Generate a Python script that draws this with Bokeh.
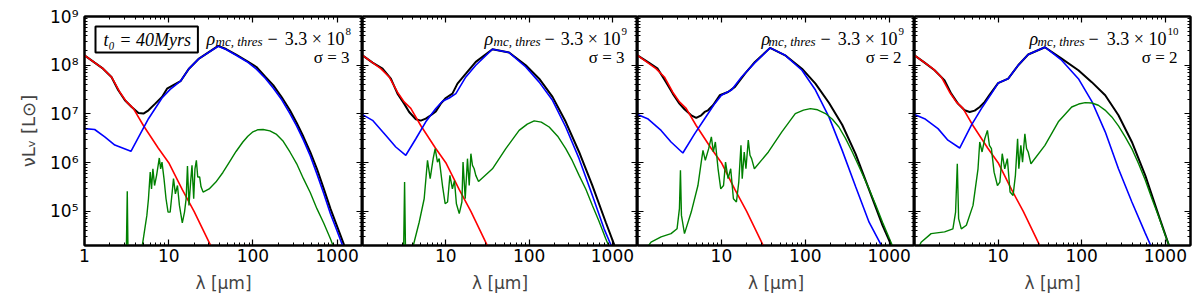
from bokeh.plotting import figure
from bokeh.layouts import row
from bokeh.models import Range1d, LogAxis, FixedTicker, CustomJSTickFormatter, Label
from bokeh.embed import file_html
from bokeh.resources import INLINE

# ---------------- data (wavelength in micron, nu L_nu in L_sun) ----------------
LAM_STAR = [1.0, 1.32, 1.66, 2.09, 2.63, 3.16, 3.8, 5.0, 7.5, 10.0, 14.5, 20.0, 31.0, 40.0]
STAR = [1.6e8, 1.13e8, 8.5e7, 5.75e7, 2.8e7, 1.77e7, 1.3e7, 5.8e6, 2.0e6, 1.0e6, 2.8e5, 1.0e5, 2.1e4, 8e3]

# panel 1
LAM_T1 = [1.0, 1.32, 1.66, 2.09, 2.51, 3.02, 3.63, 4.37, 5.01, 5.75, 6.92, 8.32, 9.55, 13.8, 17.4, 22.9, 38.7, 48, 63.1, 85, 110, 140, 174, 220, 275, 330, 398, 480, 575, 690, 832, 1202, 1600]
TOT1 = [1.6e8, 1.13e8, 8.5e7, 5.75e7, 3.1e7, 1.91e7, 1.39e7, 1.05e7, 1.02e7, 1.19e7, 1.63e7, 2.24e7, 3.3e7, 4.7e7, 8.5e7, 1.37e8, 2.5e8, 2.15e8, 1.66e8, 1.22e8, 9.2e7, 5.8e7, 3.9e7, 2.2e7, 1.19e7, 6.6e6, 3.4e6, 1.65e6, 7.5e5, 3.0e5, 1.14e5, 2.1e4, 4e3]
LAM_B1 = [1.0, 1.32, 1.74, 2.29, 3.56, 5.75, 8.32, 10.4, 13.8, 17.4, 22.9, 38.7, 48, 63.1, 85, 110, 140, 174, 220, 275, 330, 398, 480, 575, 690, 832, 980, 1148, 1500]
B1 = [5.0e6, 4.8e6, 3.4e6, 2.3e6, 1.71e6, 8.0e6, 2.13e7, 3.2e7, 4.7e7, 8.5e7, 1.37e8, 2.45e8, 2.1e8, 1.6e8, 1.18e8, 8.3e7, 5.4e7, 3.4e7, 1.95e7, 1.02e7, 5.7e6, 2.9e6, 1.38e6, 5.9e5, 2.4e5, 9.0e4, 4.3e4, 2.1e4, 5e3]
LAM_G1 = [3.12, 3.22, 3.3, 4.3, 4.88, 5.50, 5.75, 6.03, 6.25, 6.49, 6.79, 7.18, 7.73, 8.02, 8.32, 8.79, 9.29, 9.82, 10.4, 11.0,
          11.4, 12.0, 12.7, 13.4, 14.5, 15.4, 16.1, 16.7, 17.4, 18.2, 18.9, 19.8, 20.5, 21.3, 22.1, 23.3, 24.2, 25.6, 30.2, 36.3,
          44, 52.5, 63, 75.9, 87, 100, 115, 132, 159, 191, 229, 275, 331, 398, 479, 575, 692, 832, 1000]
G1 = [8e3, 2.6e5, 8e3, 5e3, 2.1e4, 8.3e4, 1.82e5, 6.4e5, 2.9e5, 7.5e5, 3.4e5, 5.5e5, 1.25e6, 7.5e5, 1.03e6, 4.7e5, 1.82e5, 9.7e4, 9.7e4, 2.5e5,
      4.7e5, 2.3e5, 3.4e5, 1.33e5, 5.8e4, 9.7e4, 1.82e5, 8.5e5, 1.33e5, 4.0e5, 8.8e5, 1.82e5, 7.5e5, 1.12e6, 5.1e5, 5.1e5, 3.2e5, 2.5e5, 2.9e5, 4.0e5,
      6.3e5, 1.03e6, 1.7e6, 2.66e6, 3.5e6, 4.3e6, 4.75e6, 4.8e6, 4.5e6, 3.8e6, 2.75e6, 1.66e6, 9.5e5, 4.7e5, 2.45e5, 1.14e5, 5.8e4, 2.74e4, 1.2e4]

# panel 2
LAM_T2 = [1.0, 1.32, 1.74, 2.19, 2.63, 3.16, 3.63, 4.37, 5.01, 5.75, 6.61, 7.59, 8.71, 10.0, 12.0, 13.8, 17.4, 22.9, 36.3, 57.5, 91.2, 132, 191, 275, 398, 575, 832, 1047, 1400]
TOT2 = [1.6e8, 1.13e8, 8.5e7, 5.3e7, 2.62e7, 1.63e7, 1.1e7, 7.8e6, 7.3e6, 8.0e6, 9.4e6, 1.13e7, 1.63e7, 2.13e7, 2.62e7, 4.2e7, 6.7e7, 1.17e8, 2.13e8, 1.82e8, 1.0e8, 5.3e7, 2.24e7, 6.9e6, 1.66e6, 3.4e5, 6.0e4, 2.1e4, 4e3]
LAM_B2 = [1.0, 1.32, 1.91, 2.51, 3.31, 4.37, 5.75, 7.59, 9.12, 11.0, 13.2, 17.4, 22.9, 36.3, 57.5, 91.2, 132, 191, 275, 398, 575, 794, 955, 1300]
B2 = [9.7e6, 7.4e6, 3.6e6, 2.1e6, 1.42e6, 3.1e6, 6.9e6, 1.29e7, 1.82e7, 2.13e7, 2.62e7, 5.75e7, 1.0e8, 2.13e8, 1.82e8, 9.2e7, 4.5e7, 1.91e7, 5.4e6, 1.21e6, 2.13e5, 4.4e4, 2.1e4, 5e3]
LAM_G2 = [3.1, 3.2, 3.3, 3.6, 4.1, 4.79, 5.50, 6.03, 6.49, 7.05, 7.45, 7.94, 8.32, 9.12, 9.82, 10.5, 11.2, 12.0, 12.7, 13.4,
          14.5, 15.6, 16.1, 17.1, 18.2, 19.1, 20.0, 20.9, 21.9, 22.9, 24.7, 36.3, 52.5, 75.9, 95, 115, 140, 174, 220, 275,
          330, 398, 480, 575, 690, 832, 1000]
G2 = [8e3, 4.0e5, 8e3, 5e3, 2.1e4, 6.0e4, 1.82e5, 1.12e6, 4.7e5, 1.21e6, 1.94e6, 1.03e6, 1.21e6, 3.4e5, 1.44e5, 1.56e5, 5.5e5, 2.9e5, 4.3e5, 1.44e5,
      9.0e4, 1.56e5, 1.03e6, 1.82e5, 1.21e6, 3.4e5, 1.53e6, 8.8e5, 7.5e5, 5.5e5, 4.1e5, 7.5e5, 1.94e6, 4.6e6, 6.2e6, 7.2e6, 6.8e6, 5.4e6, 3.5e6, 1.94e6,
      1.1e6, 5.5e5, 2.85e5, 1.33e5, 6.3e4, 2.74e4, 1.3e4]

# panel 3
LAM_T3 = [1.0, 1.32, 1.74, 2.19, 2.63, 3.16, 3.63, 4.37, 5.01, 5.75, 6.31, 6.92, 7.94, 9.55, 12.0, 14.5, 19.1, 25.1, 38.0, 57.5, 91.2, 132, 191, 275, 398, 575, 832, 1047, 1400]
TOT3 = [1.6e8, 1.17e8, 8.5e7, 4.5e7, 2.62e7, 1.63e7, 1.25e7, 9.4e6, 8.3e6, 9.4e6, 1.1e7, 1.19e7, 1.51e7, 2.42e7, 2.83e7, 3.6e7, 6.7e7, 1.17e8, 2.27e8, 1.6e8, 8.5e7, 4.2e7, 1.7e7, 6.0e6, 1.5e6, 2.8e5, 5.2e4, 2.1e4, 5e3]
LAM_B3 = [1.0, 1.32, 1.91, 2.51, 3.47, 4.79, 6.31, 8.32, 10.0, 13.2, 17.4, 25.1, 38.0, 57.5, 91.2, 132, 191, 275, 398, 575, 794, 1100]
B3 = [9.7e6, 8.0e6, 4.6e6, 2.66e6, 1.58e6, 3.9e6, 8.0e6, 1.63e7, 2.42e7, 3.1e7, 5.75e7, 1.13e8, 2.27e8, 1.6e8, 7.9e7, 3.1e7, 8.7e6, 1.79e6, 3.2e5, 6.0e4, 2.1e4, 4e3]
LAM_G3 = [1.0, 1.45, 1.91, 2.51, 2.96, 3.16, 3.25, 3.34, 3.63, 4.37, 5.25, 5.75, 6.03, 6.43, 7.05, 7.59, 8.02, 8.47, 9.12, 9.82,
          10.6, 11.2, 12.0, 12.9, 13.9, 15.1, 16.1, 17.1, 17.7, 18.7, 19.6, 20.9, 21.9, 22.9, 24.7, 36.3, 52.5, 75.9, 95, 115,
          140, 174, 210, 251, 300, 363, 450, 575, 690, 832, 1076, 1400]
G3 = [1.0e4, 2.34e4, 3.0e4, 3.5e4, 4.4e4, 1.14e5, 7.0e5, 8.3e4, 3.5e4, 9.7e4, 3.4e5, 1.03e6, 1.79e6, 1.12e6, 1.94e6, 3.4e6, 1.66e6, 2.66e6, 7.5e5, 2.9e5,
      3.4e5, 1.03e6, 4.7e5, 7.5e5, 1.82e5, 1.56e5, 4.0e5, 2.27e6, 4.7e5, 1.66e6, 7.5e5, 2.9e6, 1.42e6, 1.21e6, 7.5e5, 1.66e6, 4.3e6, 1.02e7, 1.2e7, 1.29e7,
      1.22e7, 1.02e7, 7.8e6, 5.4e6, 3.2e6, 1.66e6, 7.4e5, 2.9e5, 1.36e5, 6.0e4, 2.1e4, 5e3]

# panel 4
LAM_T4 = [1.0, 1.32, 1.74, 2.29, 2.75, 3.31, 3.98, 4.57, 5.25, 6.03, 6.92, 7.94, 10.0, 13.2, 17.4, 22.9, 36.3, 57.5, 91.2, 132, 191, 275, 398, 575, 832, 1096, 1400]
TOT4 = [1.6e8, 1.13e8, 7.9e7, 4.9e7, 2.62e7, 1.63e7, 1.19e7, 1.1e7, 1.17e7, 1.39e7, 1.77e7, 2.5e7, 4.3e7, 5.3e7, 1.0e8, 1.66e8, 2.34e8, 1.37e8, 7.9e7, 4.5e7, 2.42e7, 9.4e6, 2.66e6, 5.5e5, 8.3e4, 2.1e4, 5e3]
LAM_B4 = [1.0, 1.32, 1.91, 2.51, 3.47, 4.79, 6.31, 8.32, 10.0, 13.2, 17.4, 22.9, 36.3, 57.5, 91.2, 132, 191, 275, 398, 575, 661, 900]
B4 = [9.7e6, 8.0e6, 5.0e6, 2.9e6, 2.0e6, 5.9e6, 1.29e7, 2.62e7, 4.3e7, 5.3e7, 1.0e8, 1.66e8, 2.34e8, 1.27e8, 5.3e7, 1.82e7, 4.3e6, 7.5e5, 1.56e5, 3.6e4, 2.1e4, 4e3]
LAM_G4 = [1.0, 1.20, 1.58, 2.29, 2.88, 3.10, 3.25, 3.37, 3.63, 4.17, 5.01, 5.75, 6.03, 6.43, 6.92, 7.45, 7.87, 8.32, 8.95, 9.82,
          10.5, 11.2, 12.0, 12.9, 13.9, 15.1, 16.1, 17.1, 17.7, 18.7, 19.6, 20.9, 21.9, 22.9, 24.7, 36.3, 52.5, 75.9, 92, 110,
          132, 158, 190, 229, 275, 331, 400, 479, 575, 692, 830, 1000, 1100, 1400]
G4 = [1.2e4, 2.34e4, 3.5e4, 3.8e4, 4.4e4, 9.7e4, 9.5e5, 7.1e4, 4.4e4, 5.2e4, 1.33e5, 7.5e5, 2.66e6, 1.66e6, 3.1e6, 4.6e6, 2.27e6, 1.94e6, 6.4e5, 3.4e5,
      4.0e5, 1.53e6, 7.5e5, 1.21e6, 2.5e5, 2.13e5, 5.5e5, 3.1e6, 7.5e5, 2.27e6, 1.03e6, 3.9e6, 1.94e6, 1.66e6, 9.5e5, 2.27e6, 6.9e6, 1.39e7, 1.6e7, 1.71e7,
      1.68e7, 1.51e7, 1.2e7, 8.7e6, 5.7e6, 3.4e6, 1.9e6, 9.5e5, 4.4e5, 1.82e5, 8.0e4, 3.2e4, 2.1e4, 5e3]

PANELS = [
    (LAM_T1, TOT1, LAM_B1, B1, LAM_G1, G1),
    (LAM_T2, TOT2, LAM_B2, B2, LAM_G2, G2),
    (LAM_T3, TOT3, LAM_B3, B3, LAM_G3, G3),
    (LAM_T4, TOT4, LAM_B4, B4, LAM_G4, G4),
]
RHO_EXPONENTS = ["8", "9", "9", "10"]
SIGMA_VALUES = ["3", "3", "2", "2"]
AGE_TEXT = "t₀ = 40Myrs"

X_TICKS = [1, 10, 100, 1000]
Y_TICKS = [1e5, 1e6, 1e7, 1e8, 1e9]

# ---------------- layout / style ----------------
FRAME_H = 229
FRAME_W = [278, 275, 277, 276]
# (rho left, subscript left, minus left, exponent left) measured from the frame's right edge
TEXT_OFFS = [(156, 147, 95, 17), (153, 144, 93, 16), (153, 146, 94, 16), (161, 153, 102, 23)]
X_MINOR = [m * 10 ** k for k in range(0, 4) for m in range(2, 10)]
Y_MINOR = [m * 10 ** k for k in range(4, 9) for m in range(2, 10)]

SUP_JS = """
const sup = {"0":"\u2070","1":"\u00b9","2":"\u00b2","3":"\u00b3","4":"\u2074","5":"\u2075","6":"\u2076","7":"\u2077","8":"\u2078","9":"\u2079","-":"\u207b"};
const e = Math.round(Math.log10(tick));
return "10" + String(e).split("").map(c => sup[c]).join("");
"""
BLANK = CustomJSTickFormatter(code="return '';")
TICK_FONT = "DejaVu Sans"
SERIF = "Liberation Serif"


def style_axis(ax, ticks, minor, formatter):
    ax.ticker = FixedTicker(ticks=ticks, minor_ticks=minor)
    ax.formatter = formatter
    ax.axis_line_width = 2
    ax.axis_line_color = "black"
    ax.major_tick_in = 6
    ax.major_tick_out = 0
    ax.minor_tick_in = 3
    ax.minor_tick_out = 0
    ax.major_tick_line_width = 1.2
    ax.minor_tick_line_width = 1
    ax.major_tick_line_color = "black"
    ax.minor_tick_line_color = "black"
    ax.major_label_standoff = 3
    ax.major_label_text_font = TICK_FONT
    ax.major_label_text_font_size = "17px"
    ax.major_label_text_color = "black"


def add_text(p, x, y, text, size, style="normal", align="left"):
    p.add_layout(Label(x=x, y=y, x_units="screen", y_units="screen", text=text,
                       text_align=align, text_baseline="alphabetic", text_font=SERIF,
                       text_font_size=size, text_font_style=style, text_color="black"))


figs = []
for i, (lt, tot, lb, blue, lg, green) in enumerate(PANELS):
    fw = FRAME_W[i]
    p = figure(frame_width=fw, frame_height=FRAME_H,
               x_axis_type="log", y_axis_type="log",
               x_range=Range1d(1, 2000), y_range=Range1d(2e4, 1e9),
               output_backend="svg", toolbar_location=None,
               min_border_left=84 if i == 0 else 0,
               min_border_right=2 if i == 3 else 0,
               min_border_top=16, min_border_bottom=0,
               background_fill_color="white", border_fill_color="white")
    p.grid.visible = False
    p.outline_line_color = "black"
    p.outline_line_width = 2

    xfmt = CustomJSTickFormatter(code="return String(Math.round(tick));" if i == 0 else
                                 "return tick < 5 ? '' : String(Math.round(tick));")
    style_axis(p.xaxis[0], X_TICKS, X_MINOR, xfmt)
    p.xaxis[0].axis_label = "λ [μm]"
    p.xaxis[0].axis_label_text_font = TICK_FONT
    p.xaxis[0].axis_label_text_font_size = "17px"
    p.xaxis[0].axis_label_text_font_style = "normal"
    p.xaxis[0].axis_label_standoff = 8

    style_axis(p.yaxis[0], Y_TICKS, Y_MINOR,
               CustomJSTickFormatter(code=SUP_JS) if i == 0 else BLANK)
    if i == 0:
        p.yaxis[0].axis_label = "νLᵥ [L⊙]"
        p.yaxis[0].axis_label_text_font = TICK_FONT
        p.yaxis[0].axis_label_text_font_size = "18px"
        p.yaxis[0].axis_label_text_font_style = "normal"
        p.yaxis[0].axis_label_standoff = 8
        p.yaxis[0].major_label_standoff = 6
    else:
        p.yaxis[0].major_label_standoff = 0

    top = LogAxis()
    style_axis(top, X_TICKS, X_MINOR, BLANK)
    top.major_label_standoff = 0
    p.add_layout(top, "above")
    right = LogAxis()
    style_axis(right, Y_TICKS, Y_MINOR, BLANK)
    right.major_label_standoff = 0
    p.add_layout(right, "right")

    p.line(lt, tot, line_color="black", line_width=2)
    p.line(LAM_STAR, STAR, line_color="#ff0000", line_width=1.6)
    p.line(lb, blue, line_color="#0000ff", line_width=1.6)
    p.line(lg, green, line_color="#008000", line_width=1.4)

    rho_off, sub_off, minus_off, exp_off = TEXT_OFFS[i]
    add_text(p, fw - rho_off, FRAME_H - 22, "ρ", "18px", "italic")
    add_text(p, fw - sub_off, FRAME_H - 25, "mc, thres", "13px", "italic")
    add_text(p, fw - minus_off, FRAME_H - 22, "−", "18px")
    add_text(p, fw - exp_off - 1, FRAME_H - 22, "3.3 × 10", "18px", align="right")
    add_text(p, fw - exp_off, FRAME_H - 15, RHO_EXPONENTS[i], "11px")
    add_text(p, fw - 13, FRAME_H - 41, "σ = " + SIGMA_VALUES[i], "17px", align="right")
    if i == 0:
        p.add_layout(Label(x=11, y=FRAME_H - 23, x_units="screen", y_units="screen",
                           text=AGE_TEXT, text_align="left", text_baseline="alphabetic",
                           text_font=SERIF, text_font_size="18px", text_font_style="italic",
                           text_color="black", border_line_color="black", border_line_width=2,
                           background_fill_color="white",
                           padding=dict(left=8, right=7, top=3, bottom=3)))
    figs.append(p)

layout = row(*figs, spacing=0)
open("out.html", "w").write(file_html(layout, INLINE))
